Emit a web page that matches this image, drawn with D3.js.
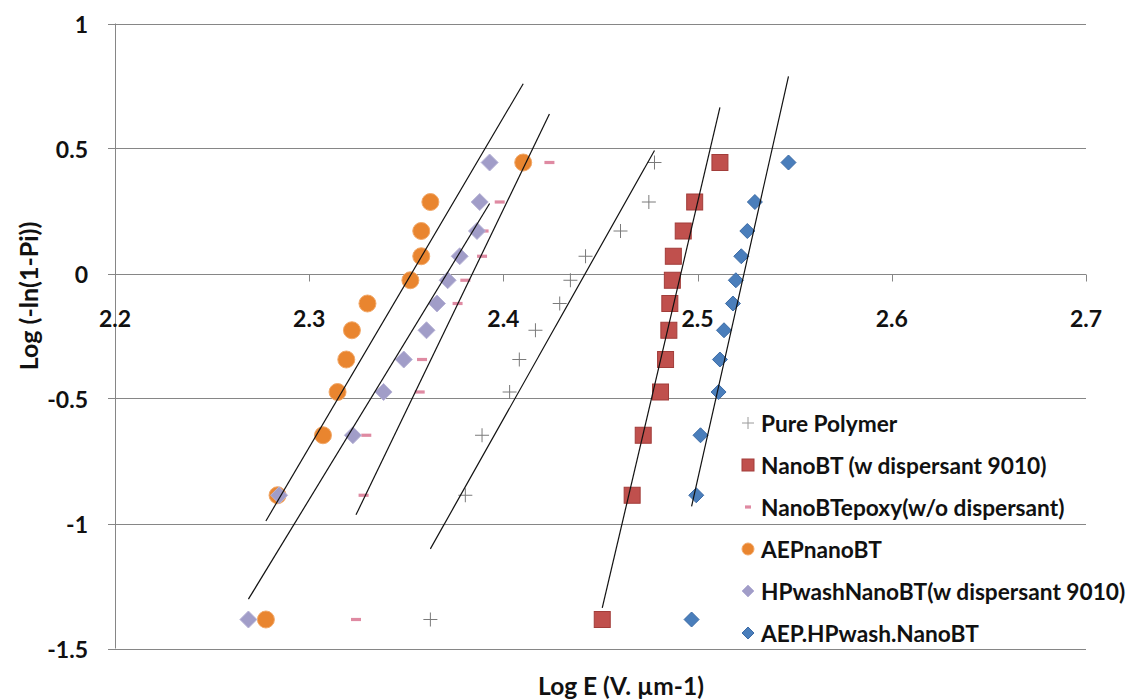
<!DOCTYPE html>
<html>
<head>
<meta charset="utf-8">
<script src="https://cdn.jsdelivr.net/npm/d3@7"></script>
<style>
  html, body { margin: 0; padding: 0; background: #fff; }
  svg { display: block; font-family: Lato, "Open Sans", sans-serif; }
</style>
</head>
<body>
<svg id="chart" width="1133" height="700"></svg>
<script>
// Weibull plot levels, Log(-ln(1-Pi)), shared by every sample set
const weibullLevels = [0.444, 0.286, 0.170, 0.069, -0.027, -0.120, -0.227, -0.344, -0.474, -0.647, -0.887, -1.384];

// Log E for each sample set, one value per level above
const purePolymer   = [2.4778, 2.4749, 2.4603, 2.4423, 2.4345, 2.4290, 2.4165, 2.4082, 2.4032, 2.3890, 2.3804, 2.3624];
const nanoBT        = [2.5115, 2.4985, 2.4926, 2.4875, 2.4870, 2.4857, 2.4852, 2.4835, 2.4809, 2.4720, 2.4663, 2.4509];
const nanoBTepoxy   = [2.4237, 2.3981, 2.3898, 2.3890, 2.3804, 2.3764, 2.3598, 2.3581, 2.3569, 2.3294, 2.3280, 2.3241];
const aepNanoBT     = [2.4102, 2.3624, 2.3577, 2.3577, 2.3521, 2.3300, 2.3220, 2.3191, 2.3146, 2.3071, 2.2837, 2.2777];
const hpWashNanoBT  = [2.3929, 2.3878, 2.3864, 2.3775, 2.3713, 2.3658, 2.3604, 2.3487, 2.3383, 2.3225, 2.2845, 2.2687];
const aepHpWash     = [2.5468, 2.5295, 2.5256, 2.5225, 2.5197, 2.5182, 2.5136, 2.5115, 2.5108, 2.5015, 2.4993, 2.4969];

const seriesNames = [
  "Pure Polymer",
  "NanoBT (w dispersant 9010)",
  "NanoBTepoxy(w/o dispersant)",
  "AEPnanoBT",
  "HPwashNanoBT(w dispersant 9010)",
  "AEP.HPwash.NanoBT"
];
const seriesValues = [purePolymer, nanoBT, nanoBTepoxy, aepNanoBT, hpWashNanoBT, aepHpWash];

const xTicks = [2.2, 2.3, 2.4, 2.5, 2.6, 2.7];
const yTicks = [-1.5, -1, -0.5, 0, 0.5, 1];

const svg = d3.select("#chart");
const plot = { left: 115, right: 1086, top: 23.5, bottom: 648.5 };

const x = d3.scaleLinear().domain([2.2, 2.7]).range([plot.left, plot.right]);
const y = d3.scaleLinear().domain([-1.5, 1]).range([plot.bottom, plot.top]);

const gridColor = "#868686";

// horizontal gridlines with short ticks on the value axis
const gy = svg.append("g");
gy.selectAll("line.grid").data(yTicks).join("line")
  .attr("x1", plot.left - 7).attr("x2", plot.right)
  .attr("y1", d => Math.round(y(d)) + 0.5).attr("y2", d => Math.round(y(d)) + 0.5)
  .attr("stroke", gridColor).attr("stroke-width", 1);

// value axis line
svg.append("line")
  .attr("x1", plot.left + 0.5).attr("x2", plot.left + 0.5)
  .attr("y1", plot.top).attr("y2", plot.bottom)
  .attr("stroke", gridColor);

// value axis labels (plain hyphen for negatives)
gy.selectAll("text").data(yTicks).join("text")
  .attr("x", 88).attr("y", d => y(d))
  .attr("text-anchor", "end").attr("dominant-baseline", "central")
  .attr("font-size", 23).attr("font-weight", 700).attr("fill", "#111")
  .text(d => String(d));

// category axis crosses at 0: tick marks and labels
const x0 = Math.round(y(0)) + 0.5;
const gx = svg.append("g");
gx.selectAll("line").data(xTicks).join("line")
  .attr("x1", d => Math.round(x(d)) + 0.5).attr("x2", d => Math.round(x(d)) + 0.5)
  .attr("y1", x0).attr("y2", x0 + 7)
  .attr("stroke", gridColor);
gx.selectAll("text").data(xTicks).join("text")
  .attr("x", d => x(d)).attr("y", 318)
  .attr("text-anchor", "middle").attr("dominant-baseline", "central")
  .attr("font-size", 23).attr("font-weight", 700).attr("fill", "#111")
  .text(d => d.toFixed(1));

// marker painters
const styles = [
  { kind: "plus",    size: 7,   fill: "none",    stroke: "#7a7a7a" },
  { kind: "square",  size: 8,   fill: "#c0504d", stroke: "#a23d3a" },
  { kind: "dash",    size: 5,   fill: "#df8aa2", stroke: "none" },
  { kind: "circle",  size: 8.5, fill: "#e9852f", stroke: "#f2a868" },
  { kind: "diamond", size: 8.5, fill: "#a19dc8", stroke: "#b7b3d6" },
  { kind: "diamond", size: 7.5, fill: "#4a7ebb", stroke: "#3d6ca6" }
];

function drawMarker(g, st, cx, cy, s) {
  if (st.kind === "plus") {
    g.append("path")
      .attr("d", `M${cx - s},${cy}H${cx + s}M${cx},${cy - s}V${cy + s}`)
      .attr("stroke", st.stroke).attr("stroke-width", 1).attr("fill", "none");
  } else if (st.kind === "square") {
    g.append("rect").attr("x", cx - s).attr("y", cy - s)
      .attr("width", 2 * s).attr("height", 2 * s)
      .attr("fill", st.fill).attr("stroke", st.stroke).attr("stroke-width", 1);
  } else if (st.kind === "dash") {
    g.append("rect").attr("x", cx - s).attr("y", cy - 1.6)
      .attr("width", 2 * s).attr("height", 3.2)
      .attr("fill", st.fill);
  } else if (st.kind === "circle") {
    g.append("circle").attr("cx", cx).attr("cy", cy).attr("r", s)
      .attr("fill", st.fill).attr("stroke", st.stroke).attr("stroke-width", 1);
  } else if (st.kind === "diamond") {
    g.append("path")
      .attr("d", `M${cx},${cy - s}L${cx + s},${cy}L${cx},${cy + s}L${cx - s},${cy}Z`)
      .attr("fill", st.fill).attr("stroke", st.stroke).attr("stroke-width", 1);
  }
}

// data markers, drawn in series order
const gm = svg.append("g");
seriesValues.forEach((vals, i) => {
  const g = gm.append("g");
  vals.forEach((v, j) => drawMarker(g, styles[i], x(v), y(weibullLevels[j]), styles[i].size));
});

// least-squares trendline for each set, over its own Log E range
function fit(xs, ys) {
  const mx = d3.mean(xs), my = d3.mean(ys);
  let sxy = 0, sxx = 0;
  xs.forEach((v, k) => { sxy += (v - mx) * (ys[k] - my); sxx += (v - mx) * (v - mx); });
  const b = sxy / sxx;
  return { b, a: my - b * mx };
}
const gt = svg.append("g");
seriesValues.forEach(vals => {
  const { a, b } = fit(vals, weibullLevels);
  const [lo, hi] = d3.extent(vals);
  gt.append("line")
    .attr("x1", x(lo)).attr("y1", y(a + b * lo))
    .attr("x2", x(hi)).attr("y2", y(a + b * hi))
    .attr("stroke", "#111").attr("stroke-width", 1.2);
});

// legend
const lg = svg.append("g");
const legendStyles = [
  { kind: "plus",    size: 6, stroke: "#9a9a9a" },
  { kind: "square",  size: 6, fill: "#c0504d", stroke: "#a23d3a" },
  { kind: "dash",    size: 3, fill: "#df8aa2" },
  { kind: "circle",  size: 6, fill: "#e9852f", stroke: "#f2a868" },
  { kind: "diamond", size: 6, fill: "#a19dc8", stroke: "#b7b3d6" },
  { kind: "diamond", size: 6, fill: "#4a7ebb", stroke: "#3d6ca6" }
];
seriesNames.forEach((name, i) => {
  const cy = 423 + i * 42;
  drawMarker(lg, legendStyles[i], 748, cy, legendStyles[i].size);
  lg.append("text").attr("x", 761).attr("y", cy)
    .attr("dominant-baseline", "central")
    .attr("font-size", 22.7).attr("font-weight", 700).attr("fill", "#111")
    .text(name);
});

// axis titles
svg.append("text")
  .attr("x", 621).attr("y", 685)
  .attr("text-anchor", "middle").attr("dominant-baseline", "central")
  .attr("font-size", 24.5).attr("font-weight", 700).attr("fill", "#111")
  .text("Log E (V. µm-1)");
svg.append("text")
  .attr("transform", "translate(28,296) rotate(-90)")
  .attr("text-anchor", "middle").attr("dominant-baseline", "central")
  .attr("font-size", 25).attr("font-weight", 700).attr("fill", "#111")
  .text("Log (-ln(1-Pi))");
</script>
</body>
</html>
